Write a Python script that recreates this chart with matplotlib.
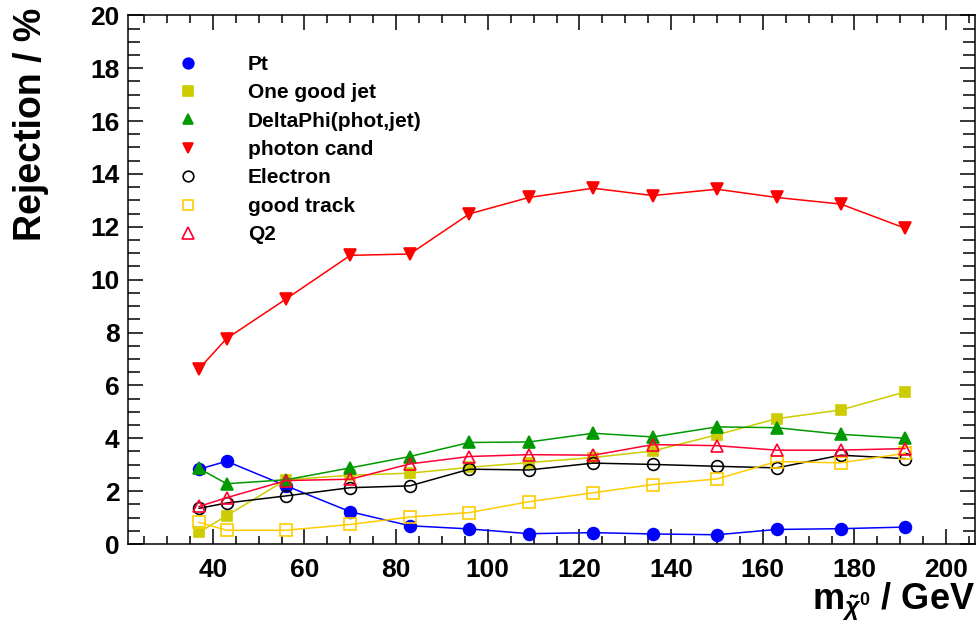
import numpy as np
import matplotlib
matplotlib.use("Agg")
import matplotlib.pyplot as plt
from matplotlib.lines import Line2D
from matplotlib.ticker import MultipleLocator

plt.rcParams['font.family'] = ['Liberation Sans', 'DejaVu Sans']
plt.rcParams['font.weight'] = 'bold'
plt.rcParams['mathtext.fontset'] = 'custom'
plt.rcParams['mathtext.rm'] = 'Liberation Sans'
plt.rcParams['mathtext.it'] = 'Liberation Sans:italic'
plt.rcParams['mathtext.bf'] = 'Liberation Sans:bold'

# neutralino mass points (GeV)
mass = [37, 43, 56, 70, 83, 96, 109, 123, 136, 150, 163, 177, 191]

# rejection in % per cut
pt = [2.83, 3.13, 2.20, 1.22, 0.69, 0.57, 0.39, 0.43, 0.38, 0.35, 0.55, 0.58, 0.64]
one_jet = [0.44, 1.07, 2.43, 2.60, 2.68, 2.90, 3.08, 3.27, 3.52, 4.13, 4.74, 5.07, 5.75]
dphi = [2.86, 2.28, 2.43, 2.88, 3.31, 3.84, 3.86, 4.19, 4.05, 4.43, 4.40, 4.15, 4.00]
photon = [6.63, 7.77, 9.27, 10.92, 10.97, 12.49, 13.11, 13.46, 13.18, 13.42, 13.11, 12.86, 11.95]
electron = [1.35, 1.55, 1.82, 2.13, 2.20, 2.83, 2.80, 3.06, 3.01, 2.94, 2.88, 3.36, 3.23]
track = [0.82, 0.52, 0.52, 0.74, 1.02, 1.19, 1.60, 1.94, 2.25, 2.46, 3.12, 3.07, 3.43]
q2 = [1.42, 1.75, 2.40, 2.45, 3.03, 3.31, 3.38, 3.36, 3.76, 3.72, 3.55, 3.55, 3.61]

labels = ['Pt', 'One good jet', 'DeltaPhi(phot,jet)', 'photon cand',
          'Electron', 'good track', 'Q2']

# (values, colour, marker, filled, size)
series = [
    (pt, '#0000ff', 'o', True, 8.5),
    (one_jet, '#cccc00', 's', True, 7.5),
    (dphi, '#009900', '^', True, 8.5),
    (photon, '#ff0000', 'v', True, 8.5),
    (electron, '#000000', 'o', False, 8.5),
    (track, '#ffcc00', 's', False, 8.5),
    (q2, '#ff0033', '^', False, 9.0),
]

fig = plt.figure(figsize=(9.76, 6.3), dpi=100)
ax = fig.add_axes([128/976, 86/630, 847/976, 528.7/630])

handles = []
for i, (vals, col, mk, filled, ms) in enumerate(series):
    mfc = col if filled else 'none'
    ax.plot(mass, vals, color=col, lw=1.1, marker=mk, ms=ms, mfc=mfc,
            mec=col, mew=1.2, zorder=3+i, clip_on=False)
    handles.append(Line2D([], [], ls='none', marker=mk, ms=ms*0.9, mfc=mfc,
                          mec=col, mew=1.2))

ax.set_xlim(21.5, 206.3)
ax.set_ylim(0, 20)
ax.xaxis.set_major_locator(MultipleLocator(20))
ax.xaxis.set_minor_locator(MultipleLocator(5))
ax.yaxis.set_major_locator(MultipleLocator(2))
ax.yaxis.set_minor_locator(MultipleLocator(0.5))
ax.tick_params(which='both', direction='in', top=True, right=True, width=1.1,
               labelsize=19)
ax.tick_params(axis='x', which='major', length=11, pad=10)
ax.tick_params(axis='x', which='minor', length=6)
ax.tick_params(axis='y', which='major', length=11, pad=6)
ax.tick_params(axis='y', which='minor', length=8.5)
for lab in ax.get_xticklabels() + ax.get_yticklabels():
    lab.set_fontweight('bold')
for sp in ax.spines.values():
    sp.set_linewidth(1.1)

ax.legend(handles, labels, loc='upper left', bbox_to_anchor=(0.0586, 0.925),
          frameon=False, handlelength=1.0, handletextpad=2.38,
          borderpad=0, borderaxespad=0, labelspacing=0.45,
          prop={'weight': 'bold', 'size': 15})

fig.text(31/976, 1 - 8/630, 'Rejection / %', rotation=90, ha='center',
         va='top', fontsize=27, fontweight='bold')
fig.text(975/976, 20/630, r'm$_{\tilde{\chi}^{0}}$ / GeV', ha='right',
         va='baseline', fontsize=26, fontweight='bold')

fig.savefig('out.png', dpi=100)
